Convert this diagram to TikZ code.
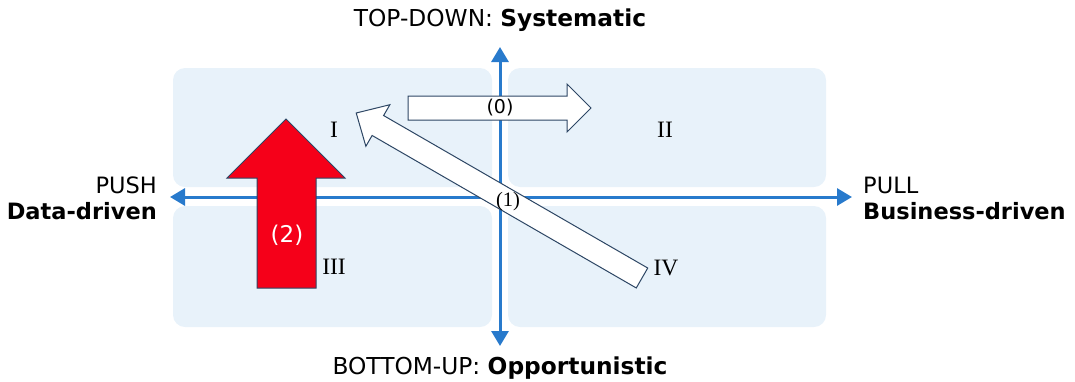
\documentclass[tikz,border=0pt]{standalone}
\usepackage{fontspec}
\setmainfont{DejaVu Sans}
\newfontfamily\numfont{Liberation Serif}
\usetikzlibrary{arrows.meta}
\definecolor{axisblue}{RGB}{40,122,204}
\definecolor{quadfill}{RGB}{232,242,250}
\definecolor{outline}{RGB}{45,70,100}
\definecolor{arrowred}{RGB}{245,0,25}
\tikzset{
  quad/.style={fill=quadfill, draw=none, rounded corners=12pt, inner sep=0pt},
  axis/.style={draw=axisblue, line width=3pt, {Triangle[length=15pt,width=17pt]}-{Triangle[length=15pt,width=17pt]}},
  fatarrow/.style={draw=outline, line width=1pt, fill=white, line join=miter},
  sidelbl/.style={font=\fontsize{22.5}{26}\selectfont, inner sep=0pt},
  vertlbl/.style={font=\fontsize{23.3}{27}\selectfont, inner sep=0pt},
  roman/.style={font=\numfont\fontsize{23.5}{27}\selectfont, inner sep=0pt},
}
\begin{document}
\begin{tikzpicture}[x=1pt,y=-1pt]
\useasboundingbox (0,0) rectangle (1075,381);
% quadrants
\node[quad, minimum width=319pt, minimum height=119pt] (q1) at (332.5,127.5) {};
\node[quad, minimum width=318pt, minimum height=119pt] (q2) at (667,127.5) {};
\node[quad, minimum width=319pt, minimum height=121pt] (q3) at (332.5,266.5) {};
\node[quad, minimum width=318pt, minimum height=121pt] (q4) at (667,266.5) {};
% axes
\coordinate (axL) at (170,197);
\coordinate (axR) at (852,197);
\coordinate (axT) at (500,47);
\coordinate (axB) at (500,346);
\draw[axis] (axL) -- (axR);
\draw[axis] (axT) -- (axB);
% arrow (0)
\draw[fatarrow] (408,96) -- (567,96) -- (567,84) -- (591,108) -- (567,132) -- (567,120) -- (408,120) -- cycle;
% arrow (1)
\begin{scope}[shift={(642,278)}, rotate=150]
\draw[fatarrow] (0,-11.5) -- (305,-11.5) -- (305,-24) -- (330,0) -- (305,24) -- (305,11.5) -- (0,11.5) -- cycle;
\end{scope}
% arrow (2)
\draw[fatarrow, fill=arrowred] (286,119) -- (345,178) -- (316,178) -- (316,288) -- (257,288) -- (257,178) -- (227,178) -- cycle;
% labels
\node[font=\fontsize{19}{22}\selectfont, inner sep=0pt] (l0) at (500,108) {(0)};
\node[font=\numfont\fontsize{20.5}{24}\selectfont, inner sep=0pt] (l1) at (508,202) {(1)};
\node[font=\fontsize{23}{26}\selectfont, text=white, inner sep=0pt] (l2) at (287,235) {(2)};
\node[roman] (rI) at (334,130) {I};
\node[roman] (rII) at (665,130) {II};
\node[roman] (rIII) at (334,267) {III};
\node[roman] (rIV) at (666,268) {IV};
\node[vertlbl] (top) at (500,20) {TOP-DOWN: \textbf{Systematic}};
\node[vertlbl] (bottom) at (500,368) {BOTTOM-UP: \textbf{Opportunistic}};
\node[sidelbl, anchor=east] (push) at (157,185) {PUSH};
\node[sidelbl, anchor=east] (data) at (157,211) {\textbf{Data-driven}};
\node[sidelbl, anchor=west] (pull) at (863,185) {PULL};
\node[sidelbl, anchor=west] (bus) at (863,211) {\textbf{Business-driven}};
\end{tikzpicture}
\end{document}
